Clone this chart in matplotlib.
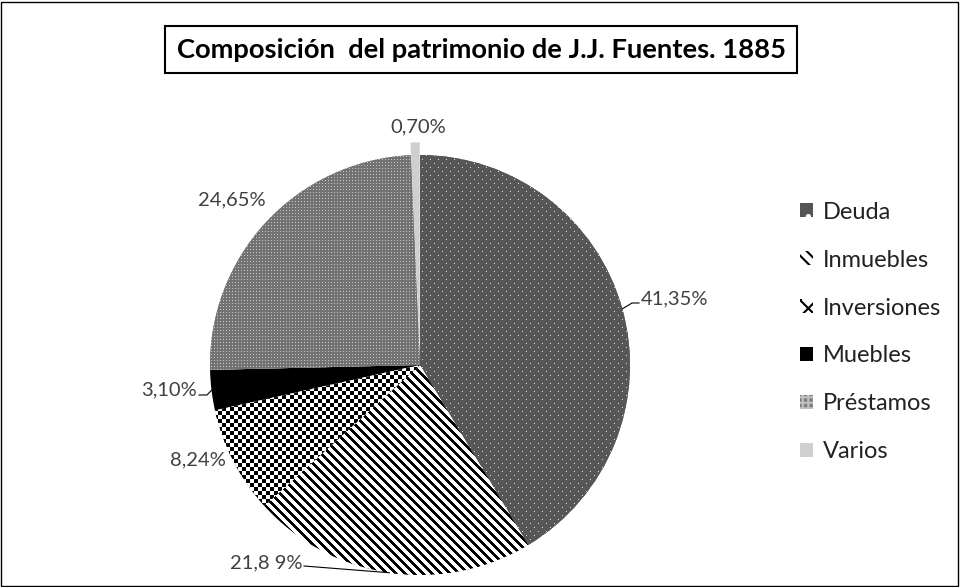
import numpy as np
import matplotlib
matplotlib.use("Agg")
import matplotlib.pyplot as plt
from matplotlib.patches import Rectangle

categories = ["Deuda", "Inmuebles", "Inversiones", "Muebles", "Préstamos", "Varios"]
values = [41.35, 21.89, 8.24, 3.10, 24.65, 0.70]
labels = ["41,35%", "21,8 9%", "8,24%", "3,10%", "24,65%", "0,70%"]
title = "Composición  del patrimonio de J.J. Fuentes. 1885"

plt.rcParams['font.family'] = ['Lato', 'DejaVu Sans']
plt.rcParams['hatch.linewidth'] = 1.5

W, H = 960, 587
fig = plt.figure(figsize=(W / 100, H / 100), dpi=100)
fig.patch.set_facecolor("white")

# outer frame
fig.add_artist(Rectangle((0.5 / W, 1.5 / H), (W - 3) / W, (H - 3.5) / H,
                         transform=fig.transFigure, fill=False,
                         edgecolor="black", linewidth=1.0))

cx, cy, R = 420, 365, 210
ax = fig.add_axes([(cx - R) / W, (H - cy - R) / H, 2 * R / W, 2 * R / H])

faces = ["#555555", "white", "white", "black", "#7f7f7f", "#cfcfcf"]
hcols = ["white", "black", "black", "black", "#c0c0c0", "#cfcfcf"]
hatches = [".", "\\\\\\", "xx", None, "+++", None]
explode = [0, 0, 0, 0, 0, 0.06]

wedges, _ = ax.pie(values, startangle=90, counterclock=False, explode=explode,
                   radius=1.0, center=(0, 0), frame=False)
ax.set_xlim(-1, 1)
ax.set_ylim(-1, 1)
ax.set_aspect("equal")
ax.axis("off")
for w, fc, hc, ht in zip(wedges, faces, hcols, hatches):
    w.set_facecolor(fc)
    w.set_edgecolor(hc)
    w.set_linewidth(0)
    w.set_clip_on(False)
    if ht:
        w.set_hatch(ht)

# pixel textures clipped to the wedges
N = 2 * R
rr, cc = np.mgrid[0:N, 0:N]

def rgb(h):
    h = h.lstrip('#')
    return np.array([int(h[i:i + 2], 16) / 255 for i in (0, 2, 4)])

def tex(bg, fg, mask):
    img = np.empty((N, N, 3))
    img[:] = rgb(bg)
    img[mask] = rgb(fg)
    return img

textures = {
    0: tex("#575757", "#d8d8d8",
           ((rr % 8 == 0) & (cc % 8 == 0)) | ((rr % 8 == 4) & (cc % 8 == 4))),
    1: tex("#ffffff", "#000000", ((cc - rr) % 9) < 4),
    2: tex("#ffffff", "#000000", ((rr // 4 + cc // 4) % 2) == 0),
    4: tex("#727272", "#c8c8c8", ((rr % 3 == 1) & (cc % 3 == 1))),
}
for i, img in textures.items():
    im = ax.imshow(img, extent=(-1, 1, -1, 1), origin="upper",
                   interpolation="nearest", zorder=wedges[i].get_zorder() + 0.1)
    im.set_clip_path(wedges[i])
ax.set_xlim(-1, 1)
ax.set_ylim(-1, 1)

def px(x, y):
    return ((x - cx) / R, (cy - y) / R)

def edge(i):
    w = wedges[i]
    a = np.deg2rad((w.theta1 + w.theta2) / 2)
    return np.cos(a), np.sin(a)

fs = 14.5
pos = {
    0: ((641, 299), "left"),
    1: ((302, 563), "right"),
    2: ((198, 460), "center"),
    3: ((197, 390), "right"),
    4: ((232, 200), "center"),
    5: ((418, 127), "center"),
}
for i, ((x, y), ha) in pos.items():
    tx, ty = px(x, y)
    ax.text(tx, ty, labels[i], ha=ha, va="center", fontsize=fs, color="#404040",
            clip_on=False, zorder=5)

def leader(i, pts):
    ex, ey = edge(i)
    xs = [ex] + [px(*p)[0] for p in pts]
    ys = [ey] + [px(*p)[1] for p in pts]
    ax.plot(xs, ys, color="black", lw=0.8, clip_on=False, zorder=5)

leader(0, [(632, 303), (639, 303)])
leader(3, [(207, 395), (199, 395)])
leader(1, [(304, 566)])

fig.text(481 / W, 1 - 49.5 / H, title, ha="center", va="center",
         fontsize=19.7, fontweight="bold", color="black",
         bbox=dict(boxstyle="square,pad=0.42", facecolor="white",
                   edgecolor="black", linewidth=1.5))

leg = fig.legend(wedges, categories, loc="center left",
                 bbox_to_anchor=(800 / W, 1 - 332 / H), frameon=False,
                 fontsize=17, handlelength=0.55, handleheight=0.55,
                 handletextpad=0.42, labelspacing=1.14, borderpad=0,
                 borderaxespad=0)
for t in leg.get_texts():
    t.set_color("#222222")

fig.savefig("out.png", dpi=100)
